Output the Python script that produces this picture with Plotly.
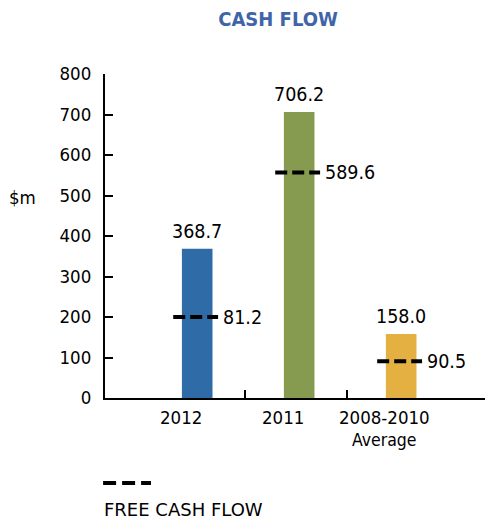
import plotly.graph_objects as go

categories = ["2012", "2011", "2008-2010"]
category_sub = ["", "", "Average"]
cash_flow = [368.7, 706.2, 158.0]
free_cash_flow_labels = ["81.2", "589.6", "90.5"]
free_cash_flow_marker = [200, 557, 91]  # as drawn in the reference
bar_colors = ["#2F6BA7", "#869B4F", "#E4B042"]
y_ticks = [0, 100, 200, 300, 400, 500, 600, 700, 800]

FONT = "DejaVu Sans Condensed"
FONT2 = "DejaVu Sans"
idx = list(range(len(categories)))

fig = go.Figure()
fig.add_trace(go.Bar(x=idx, y=cash_flow, width=0.30, marker_color=bar_colors,
                     marker_line_width=0, showlegend=False, hoverinfo="skip"))

half = 0.22
for i, v in zip(idx, free_cash_flow_marker):
    fig.add_trace(go.Scatter(x=[i - 0.015 - half, i - 0.015 + half], y=[v, v], mode="lines",
                             line=dict(color="black", width=4, dash="12px,5px"),
                             showlegend=False, hoverinfo="skip"))

ann = []
for i, v in zip(idx, cash_flow):
    ann.append(dict(x=i, y=v, xref="x", yref="y", text=f"{v:.1f}", showarrow=False,
                    yanchor="bottom", yshift=4, font=dict(size=19.5, color="black", family=FONT)))
for i, v, t in zip(idx, free_cash_flow_marker, free_cash_flow_labels):
    ann.append(dict(x=i - 0.015 + half, y=v, xref="x", yref="y", text=t, showarrow=False,
                    xanchor="left", yanchor="middle", xshift=3,
                    font=dict(size=19.5, color="black", family=FONT)))
for i, c, s in zip(idx, categories, category_sub):
    ann.append(dict(x=i - 0.16, y=0, xref="x", yref="y", text=c, showarrow=False,
                    xanchor="center", yanchor="top", yshift=-7,
                    font=dict(size=18.5, color="black", family=FONT)))
    if s:
        ann.append(dict(x=i - 0.16, y=0, xref="x", yref="y", text=s, showarrow=False,
                        xanchor="center", yanchor="top", yshift=-30,
                        font=dict(size=17.5, color="black", family=FONT)))
ann.append(dict(x=-0.218, y=496, xref="paper", yref="y", text="$m", showarrow=False,
                xanchor="center", yanchor="middle",
                font=dict(size=18.5, color="black", family=FONT)))
ann.append(dict(x=-0.008, y=-0.343, xref="paper", yref="paper", text="FREE CASH FLOW",
                showarrow=False, xanchor="left", yanchor="middle",
                font=dict(size=18, color="black", family=FONT2)))

fig.update_layout(
    width=486, height=524,
    margin=dict(l=105, r=1, t=74, b=126),
    paper_bgcolor="white", plot_bgcolor="white",
    title=dict(text="<b>CASH FLOW</b>", x=278 / 486, xanchor="center", y=1 - 19 / 524,
               yanchor="middle", font=dict(size=20, color="#3F64A8", family=FONT)),
    annotations=ann,
    shapes=[dict(type="line", xref="paper", yref="paper", x0=-0.005, x1=0.121,
                 y0=-0.262, y1=-0.262, line=dict(color="black", width=4, dash="13px,6px"))],
    xaxis=dict(range=[-0.904, 2.822], showgrid=False, zeroline=False, showline=True,
               linecolor="black", linewidth=2, ticks="inside", ticklen=8, tickwidth=2,
               tickcolor="black", tickvals=[0.47, 1.47, 2.82], showticklabels=False),
    yaxis=dict(range=[0, 800], showgrid=False, zeroline=False, showline=True,
               linecolor="black", linewidth=2, ticks="inside", ticklen=8, tickwidth=2,
               tickcolor="black", tickvals=y_ticks, ticklabelstandoff=8,
               tickfont=dict(size=18.5, color="black", family=FONT)),
)
fig.write_html("out.html", config={"displayModeBar": False},
               post_script="document.body.style.margin='0';document.body.style.overflow='hidden';")
